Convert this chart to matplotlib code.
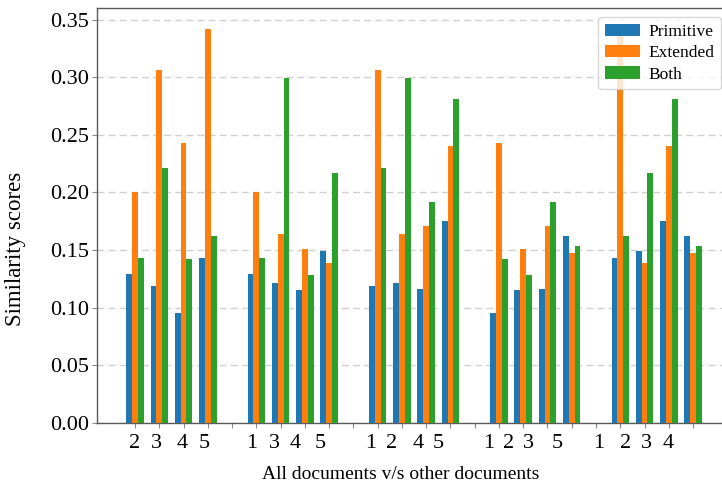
import numpy as np
import matplotlib
matplotlib.use("Agg")
import matplotlib.pyplot as plt

plt.rcParams["font.family"] = ["Liberation Serif", "DejaVu Serif"]

# Pairwise similarity between five documents (symmetric, diagonal unused)
documents = [1, 2, 3, 4, 5]
series_names = ["Primitive", "Extended", "Both"]

primitive = [
    [0.000, 0.129, 0.119, 0.095, 0.143],
    [0.129, 0.000, 0.121, 0.115, 0.149],
    [0.119, 0.121, 0.000, 0.116, 0.175],
    [0.095, 0.115, 0.116, 0.000, 0.162],
    [0.143, 0.149, 0.175, 0.162, 0.000],
]
extended = [
    [0.000, 0.200, 0.306, 0.243, 0.342],
    [0.200, 0.000, 0.164, 0.151, 0.139],
    [0.306, 0.164, 0.000, 0.171, 0.240],
    [0.243, 0.151, 0.171, 0.000, 0.147],
    [0.342, 0.139, 0.240, 0.147, 0.000],
]
both = [
    [0.000, 0.143, 0.221, 0.142, 0.162],
    [0.143, 0.000, 0.299, 0.128, 0.217],
    [0.221, 0.299, 0.000, 0.192, 0.281],
    [0.142, 0.128, 0.192, 0.000, 0.153],
    [0.162, 0.217, 0.281, 0.153, 0.000],
]

# Tick label text for each comparison slot, and where each label sits
tick_labels = [str(o) for d in documents for o in documents if o != d]
label_slots = [0.96, 1.87, 2.94, 3.85, 5.82, 6.73, 7.60, 8.63,
               10.73, 11.56, 12.67, 13.49, 15.56, 16.38, 17.21, 18.40,
               20.13, 21.20, 22.06, 22.97]

colors = ["#1f77b4", "#ff7f0e", "#2ca02c"]
width = 0.24

# One slot per comparison, with an empty slot separating each document group
positions, vals = [], {name: [] for name in series_names}
for gi, d in enumerate(documents):
    others = [o for o in documents if o != d]
    for pi, o in enumerate(others):
        positions.append(gi * 5 + pi + 1)
        for name, mat in zip(series_names, [primitive, extended, both]):
            vals[name].append(mat[d - 1][o - 1])
positions = np.array(positions, dtype=float)

fig = plt.figure(figsize=(7.22, 4.86), dpi=100)
ax = fig.add_axes([0.1343, 0.1302, 0.877, 0.8533])

for k, (name, c) in enumerate(zip(series_names, colors)):
    ax.bar(positions + (k - 1) * width, vals[name], width, color=c,
           label=name, zorder=3)

ax.set_xlim(-0.57, 25.53)
ax.set_ylim(0, 0.36)
yt = np.arange(0, 0.351, 0.05)
ax.set_yticks(yt)
ax.set_yticklabels([f"{t:.2f}" for t in yt])

ax.set_xticks(np.arange(1, 25))
ax.set_xticklabels([])
ax.set_xticks(label_slots, minor=True)
ax.set_xticklabels(tick_labels, minor=True)
ax.tick_params(axis="x", which="minor", length=0, pad=8, labelsize=16)
ax.tick_params(axis="x", which="major", length=3.5, color="#888888")
ax.tick_params(axis="y", length=3.5, color="#888888", labelsize=16, pad=2)

ax.yaxis.grid(True, linestyle=(0, (5, 3)), color="#cfcfcf", linewidth=1.0, zorder=0)
for s in ax.spines.values():
    s.set_color("#5a5a5a")
    s.set_linewidth(1.0)

ax.set_ylabel("Similarity scores", fontsize=16.5)
ax.yaxis.set_label_coords(-0.112, 0.42)
ax.set_xlabel("All documents v/s other documents", fontsize=14)
ax.xaxis.set_label_coords(0.48, -0.105)

ax.legend(loc="upper right", fontsize=12.5, labelspacing=0.3,
          handlelength=2.0, handletextpad=0.5, borderpad=0.4,
          framealpha=0.8, edgecolor="#cccccc")

fig.savefig("out.png", dpi=100)
